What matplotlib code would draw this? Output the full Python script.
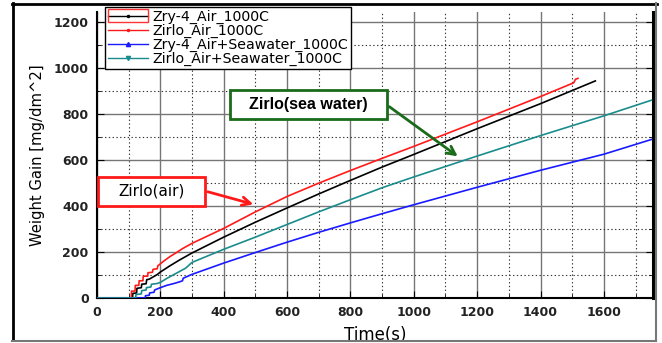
import matplotlib
matplotlib.use("Agg")
import matplotlib.pyplot as plt
from matplotlib.lines import Line2D
from matplotlib.patches import Rectangle
from matplotlib.ticker import MultipleLocator

plt.rcParams['font.family'] = ['DejaVu Sans']

# ---- data ----
zry4_air_t = [0, 112, 113, 125, 126, 140, 141, 155, 157, 165, 175, 190, 200, 230, 260, 300,
              400, 500, 600, 700, 800, 900, 1000, 1200, 1400, 1573]
zry4_air_w = [0, 0, 20, 22, 42, 45, 60, 62, 80, 82, 90, 102, 113, 140, 165, 196,
              265, 330, 392, 453, 512, 570, 625, 737, 846, 945]

zirlo_air_t = [0, 108, 109, 120, 121, 132, 133, 145, 146, 160, 161, 175, 177, 190, 192, 210,
               230, 250, 270, 300, 400, 500, 600, 700, 800, 900, 1000, 1200, 1400, 1505, 1510, 1518]
zirlo_air_w = [0, 0, 30, 30, 55, 55, 75, 75, 95, 95, 110, 112, 125, 127, 140, 160,
               180, 197, 215, 238, 303, 375, 442, 500, 555, 608, 660, 767, 877, 937, 952, 956]

zry4_sw_t = [0, 152, 153, 165, 166, 180, 182, 200, 220, 240, 260, 270, 272, 300,
             400, 500, 600, 700, 800, 900, 1000, 1200, 1400, 1600, 1750]
zry4_sw_w = [0, 0, 10, 12, 22, 25, 35, 45, 55, 62, 70, 75, 86, 103,
             152, 198, 243, 286, 327, 367, 406, 482, 556, 626, 690]

zirlo_sw_t = [0, 122, 123, 140, 141, 155, 156, 170, 172, 190, 200, 220, 240, 260, 280, 300,
              400, 500, 600, 700, 800, 900, 1000, 1200, 1400, 1600, 1750]
zirlo_sw_w = [0, 0, 15, 18, 32, 35, 45, 48, 60, 63, 68, 85, 100, 115, 130, 155,
              212, 265, 320, 375, 428, 480, 527, 618, 707, 793, 861]

labels = ["Zry-4_Air_1000C", "Zirlo_Air_1000C", "Zry-4_Air+Seawater_1000C", "Zirlo_Air+Seawater_1000C"]
colors = ["black", "#ff1a1a", "#1a1aff", "#1a8c8c"]
markers = [".", ".", "^", "v"]

W, H = 662, 343
fig = plt.figure(figsize=(W / 100, H / 100), dpi=100)
L, R, T, B = 97, 653, 12, 298
ax = fig.add_axes([L / W, (H - B) / H, (R - L) / W, (B - T) / H])

series = [(zry4_air_t, zry4_air_w), (zirlo_air_t, zirlo_air_w),
          (zry4_sw_t, zry4_sw_w), (zirlo_sw_t, zirlo_sw_w)]
for (t, w), c in zip(series, colors):
    ax.plot(t, w, color=c, lw=1.2, zorder=3)

ax.set_xlim(0, 1755)
ax.set_ylim(0, 1245)
ax.xaxis.set_major_locator(MultipleLocator(200))
ax.xaxis.set_minor_locator(MultipleLocator(100))
ax.yaxis.set_major_locator(MultipleLocator(200))
ax.yaxis.set_minor_locator(MultipleLocator(100))
ax.grid(which='major', color='#767676', lw=1.0, ls='-', zorder=0)
ax.grid(which='minor', color='#333333', lw=0.8, ls=(0, (1.2, 2.2)), zorder=0)
ax.tick_params(which='both', direction='in', right=True, top=False, labelsize=9,
               colors='black', pad=6)
ax.tick_params(which='major', length=5)
ax.tick_params(which='minor', length=3)
for lab in ax.get_xticklabels() + ax.get_yticklabels():
    lab.set_fontweight('bold')
    lab.set_color('#222222')
for s in ['left', 'bottom']:
    ax.spines[s].set_linewidth(1.5)
ax.spines['right'].set_linewidth(2.2)
ax.spines['top'].set_visible(False)

ax.set_xlabel("Time(s)", fontsize=12, labelpad=5)
ax.set_ylabel("Weight Gain [mg/dm^2]", fontsize=10.6, labelpad=6)

# legend
handles = [Line2D([], [], color=c, lw=1, marker=m, markersize=3) for c, m in zip(colors, markers)]
leg = fig.legend(handles, labels, loc='upper left', bbox_to_anchor=(105 / W, (H - 7) / H),
                 bbox_transform=fig.transFigure, borderaxespad=0, fontsize=10.2,
                 handlelength=2.8, handletextpad=0.35, labelspacing=0.0,
                 borderpad=0.2, fancybox=False, framealpha=1, edgecolor='black')
leg.get_frame().set_linewidth(1.0)
fig.add_artist(Rectangle((108 / W, (H - 22) / H), 40 / W, 13 / H, transform=fig.transFigure,
                         fill=False, edgecolor='#ff3333', lw=1, zorder=10))

def ax_xy(px, py):
    return ((px - L) / (R - L), (B - py) / (B - T))

# annotation boxes
x0, y0 = ax_xy(98, 206)
x1, y1 = ax_xy(205, 177)
ax.add_patch(Rectangle((x0, y0), x1 - x0, y1 - y0, transform=ax.transAxes,
                       facecolor='white', edgecolor='#ff1a1a', lw=2, zorder=5))
ax.text(*ax_xy(151.5, 191.5), "Zirlo(air)", transform=ax.transAxes, ha='center', va='center',
        fontsize=11, zorder=6)
ax.annotate("", xy=ax_xy(256, 205), xycoords='axes fraction', xytext=ax_xy(205, 191),
            textcoords='axes fraction',
            arrowprops=dict(arrowstyle='->,head_length=0.6,head_width=0.3', color='#ff1a1a', lw=2),
            zorder=6)

x0, y0 = ax_xy(230, 119)
x1, y1 = ax_xy(387, 90)
ax.add_patch(Rectangle((x0, y0), x1 - x0, y1 - y0, transform=ax.transAxes,
                       facecolor='white', edgecolor='#1a6b1a', lw=2, zorder=5))
ax.text(*ax_xy(308.5, 104.5), "Zirlo(sea water)", transform=ax.transAxes, ha='center', va='center',
        fontsize=11.5, fontweight='bold', family='Liberation Sans', zorder=6)
ax.annotate("", xy=ax_xy(460, 158), xycoords='axes fraction', xytext=ax_xy(387, 105),
            textcoords='axes fraction',
            arrowprops=dict(arrowstyle='->,head_length=0.6,head_width=0.3', color='#1a6b1a', lw=2),
            zorder=6)

# outer frame
fig.add_artist(Line2D([12.5 / W, 12.5 / W], [(H - 3) / H, (H - 340) / H], color='black', lw=2,
                      transform=fig.transFigure))
fig.add_artist(Line2D([12 / W, 657 / W], [(H - 3.5) / H, (H - 3.5) / H], color='black', lw=2,
                      transform=fig.transFigure))
fig.add_artist(Line2D([656 / W, 656 / W], [(H - 3) / H, (H - 340.5) / H], color='#777777', lw=1.5,
                      transform=fig.transFigure))
fig.add_artist(Line2D([12 / W, 656 / W], [(H - 340.5) / H, (H - 340.5) / H], color='#777777', lw=1.5,
                      transform=fig.transFigure))

fig.savefig("out.png", dpi=100)
